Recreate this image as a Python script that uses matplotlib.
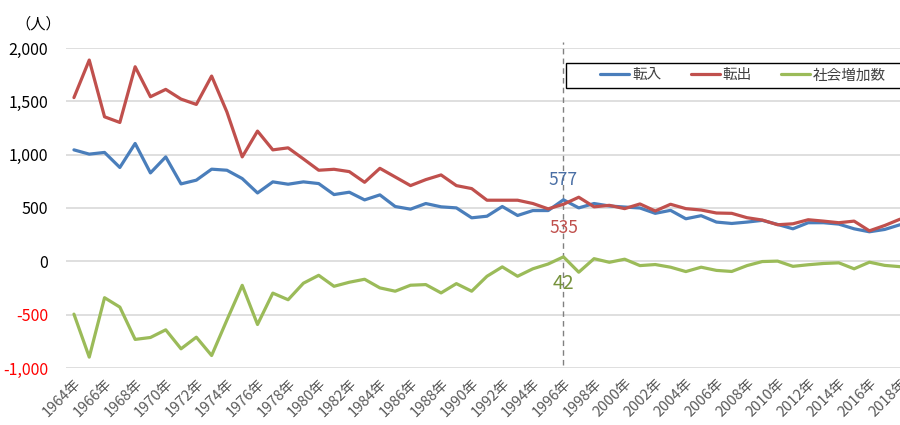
import matplotlib
matplotlib.use("Agg")
import matplotlib.pyplot as plt
from matplotlib.patches import Rectangle
from matplotlib.ticker import FuncFormatter

plt.rcParams['font.family'] = ['Noto Sans CJK JP', 'DejaVu Sans']

years = list(range(1964, 2019))
tennyu = [1045, 1005, 1021, 880, 1105, 829, 979, 726, 761, 864,
          854, 776, 641, 745, 723, 745, 729, 626, 648, 576,
          623, 514, 489, 542, 511, 501, 408, 423, 514, 430,
          476, 476, 577, 501, 542, 519, 509, 500, 450, 478,
          399, 428, 368, 355, 368, 384, 346, 305, 362, 362,
          349, 305, 277, 299, 343]
tenshutsu = [1535, 1887, 1355, 1302, 1824, 1543, 1612, 1521, 1471, 1737,
             1400, 979, 1221, 1045, 1064, 960, 854, 863, 841, 741,
             872, 791, 710, 766, 810, 710, 682, 573, 573, 573,
             542, 492, 535, 601, 511, 525, 494, 538, 472, 535,
             494, 481, 453, 450, 409, 387, 343, 352, 390, 377,
             362, 377, 286, 336, 395]
shakai = [-495, -898, -341, -429, -732, -714, -642, -820, -711, -883,
          -550, -225, -592, -298, -360, -205, -131, -234, -196, -168,
          -249, -280, -224, -218, -296, -209, -280, -140, -52, -140,
          -70, -25, 42, -102, 25, -9, 20, -40, -30, -55,
          -96, -55, -85, -95, -40, -2, 2, -47, -32, -20,
          -14, -70, -8, -38, -50]
series_names = ['転入', '転出', '社会増加数']
yticks = [-1000, -500, 0, 500, 1000, 1500, 2000]
xtick_years = list(range(1964, 2019, 2))
mark_year = 1996

colors = ['#4A7EBB', '#C0504D', '#9BBB59']

fig = plt.figure(figsize=(9, 4.25), dpi=100)
ax = fig.add_axes([66.3/900, 1-368/425, 1-66.3/900, 320/425])

lines = []
for vals, c, name in zip([tennyu, tenshutsu, shakai], colors, series_names):
    ln, = ax.plot(years, vals, color=c, lw=2.3, label=name, solid_joinstyle='round',
                  solid_capstyle='round', zorder=3)
    lines.append(ln)

ax.set_xlim(1963.5, 1964 + (900-74)/15.375)
ax.set_ylim(-1000, 2000)
ax.set_yticks(yticks)
ax.yaxis.set_major_formatter(FuncFormatter(lambda v, p: f"{int(v):,}"))
ax.grid(axis='y', color='#D9D9D9', lw=1.2)
ax.set_axisbelow(True)
for s in ax.spines.values():
    s.set_visible(False)
ax.tick_params(axis='y', length=0, pad=13, labelsize=11.5)
for lbl, v in zip(ax.get_yticklabels(), yticks):
    lbl.set_color('#FF0000' if v < 0 else '#000000')

ax.set_xticks(xtick_years)
ax.set_xticklabels([f"{y}年" for y in xtick_years], rotation=45, ha='right',
                   rotation_mode='anchor', color='#595959', fontsize=10.5)
ax.tick_params(axis='x', length=0, pad=6)

# unit label
fig.text(38/900, 1-24/425, '（人）', ha='center', va='center', fontsize=11, color='#000000')

# vertical dashed line at 1996
ax.axvline(mark_year, ymin=(368-365)/320, ymax=(368-42)/320, color='#808080',
           lw=1, ls=(0, (4, 3)), clip_on=False, zorder=2)

# annotations
i = years.index(mark_year)
ax.annotate(f"{tennyu[i]}", (mark_year, tennyu[i]), xytext=(0, 14.5), textcoords='offset points',
            ha='center', va='center', color='#4A6FA5', fontsize=12.5)
ax.annotate(f"{tenshutsu[i]}", (mark_year, tenshutsu[i]), xytext=(0, -17), textcoords='offset points',
            ha='center', va='center', color='#C0504D', fontsize=12.5)
ax.annotate(f"{shakai[i]}", (mark_year, shakai[i]), xytext=(0, -19), textcoords='offset points',
            ha='center', va='center', color='#76923C', fontsize=14)

# legend with frame
rect = Rectangle(((566-66.3)/833.7, (368-88)/320), (910-566)/833.7, 25/320,
                 transform=ax.transAxes, fill=True, facecolor='white', edgecolor='#000000',
                 lw=1, clip_on=False, zorder=4)
ax.add_patch(rect)
leg = ax.legend(handles=lines, loc='center left', ncol=3, frameon=False,
                bbox_to_anchor=((600-66.3)/833.7, (368-75.5)/320),
                borderpad=0, borderaxespad=0, handlelength=2.0, handletextpad=0.2,
                columnspacing=2.0, fontsize=10.5)
leg.set_zorder(5)
for t in leg.get_texts():
    t.set_color('#404040')

fig.savefig('out.png', dpi=100)
